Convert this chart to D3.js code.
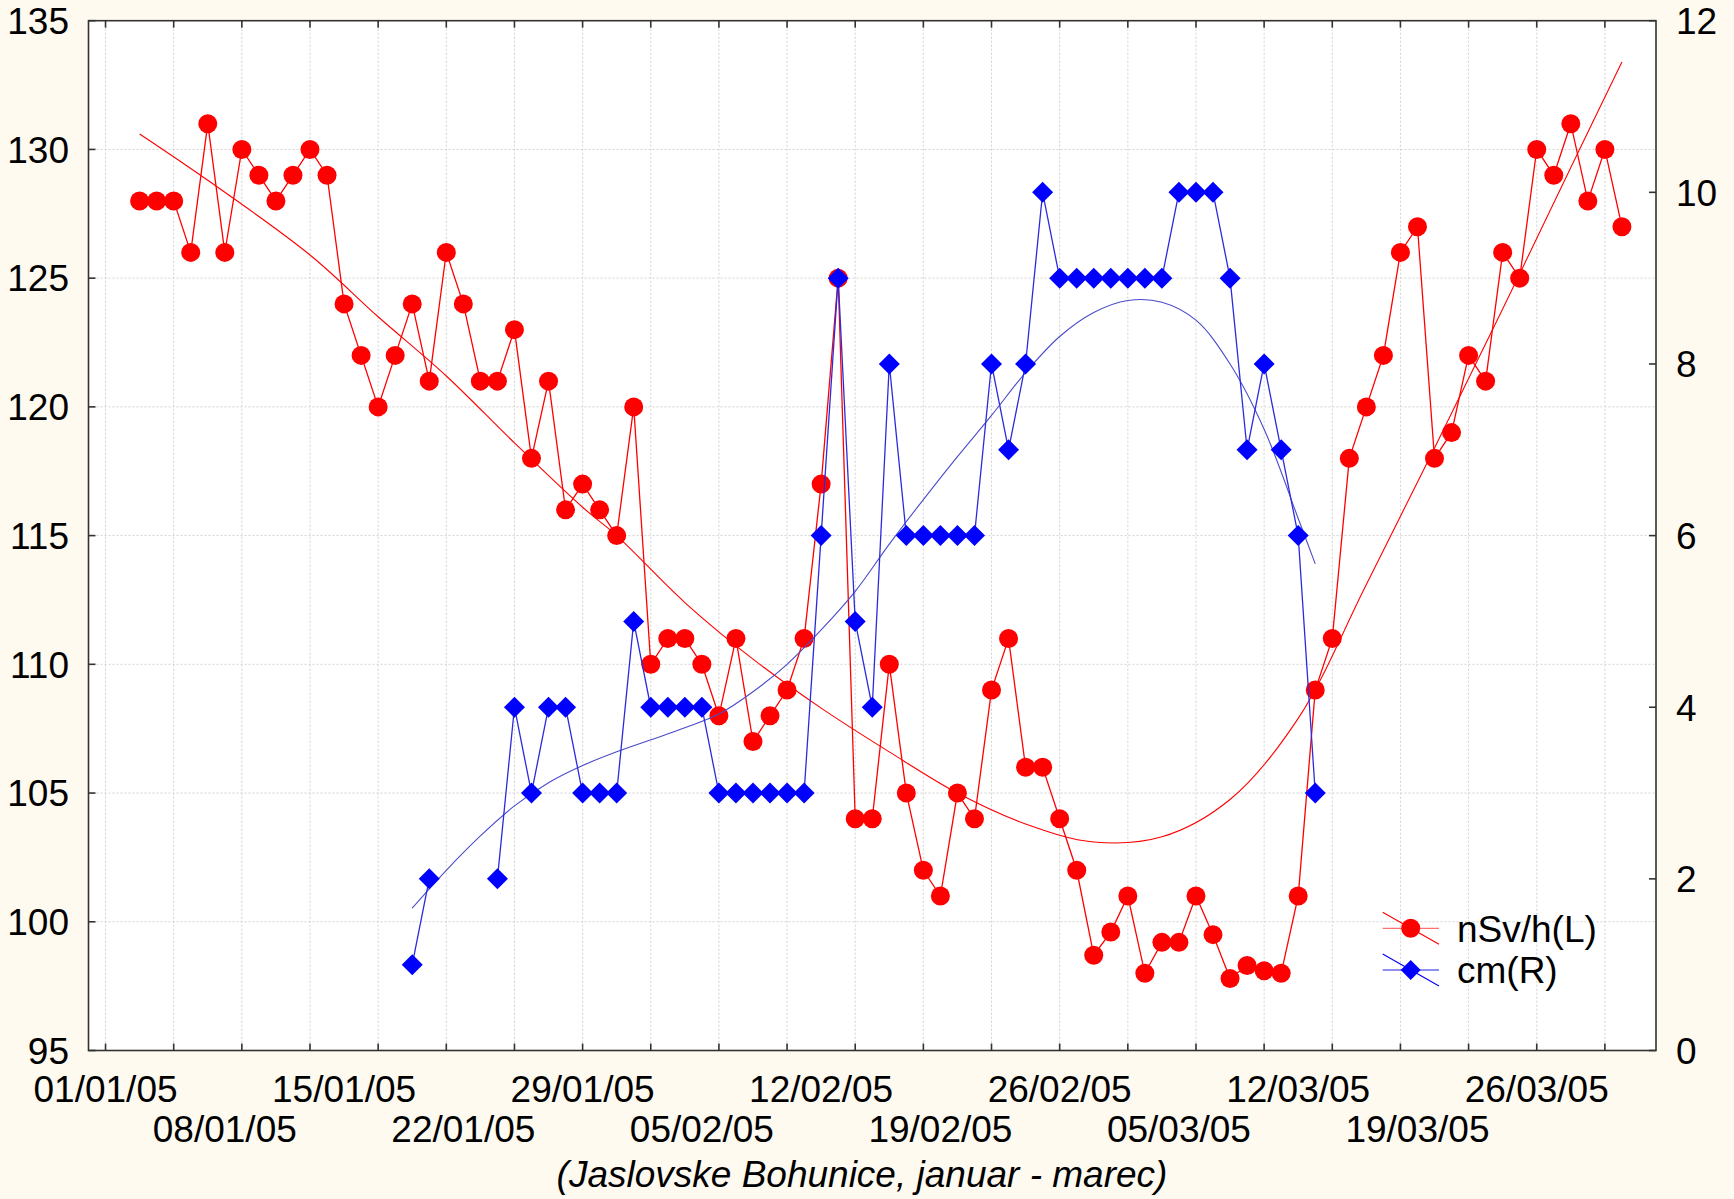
<!DOCTYPE html>
<html>
<head>
<meta charset="utf-8">
<script src="https://cdn.jsdelivr.net/npm/d3@7"></script>
<style>
  html, body { margin: 0; padding: 0; background: #fffaf0; }
  svg { display: block; }
  text { font-family: "Liberation Sans", Arial, sans-serif; fill: #000; }
</style>
</head>
<body>
<svg id="chart" width="1734" height="1199"></svg>
<script>
// ---------------- DATA ----------------
const dates = [
  "2005-01-03","2005-01-04","2005-01-05","2005-01-06","2005-01-07","2005-01-08","2005-01-09","2005-01-10",
  "2005-01-11","2005-01-12","2005-01-13","2005-01-14","2005-01-15","2005-01-16","2005-01-17","2005-01-18",
  "2005-01-19","2005-01-20","2005-01-21","2005-01-22","2005-01-23","2005-01-24","2005-01-25","2005-01-26",
  "2005-01-27","2005-01-28","2005-01-29","2005-01-30","2005-01-31","2005-02-01","2005-02-02","2005-02-03",
  "2005-02-04","2005-02-05","2005-02-06","2005-02-07","2005-02-08","2005-02-09","2005-02-10","2005-02-11",
  "2005-02-12","2005-02-13","2005-02-14","2005-02-15","2005-02-16","2005-02-17","2005-02-18","2005-02-19",
  "2005-02-20","2005-02-21","2005-02-22","2005-02-23","2005-02-24","2005-02-25","2005-02-26","2005-02-27",
  "2005-02-28","2005-03-01","2005-03-02","2005-03-03","2005-03-04","2005-03-05","2005-03-06","2005-03-07",
  "2005-03-08","2005-03-09","2005-03-10","2005-03-11","2005-03-12","2005-03-13","2005-03-14","2005-03-15",
  "2005-03-16","2005-03-17","2005-03-18","2005-03-19","2005-03-20","2005-03-21","2005-03-22","2005-03-23",
  "2005-03-24","2005-03-25","2005-03-26","2005-03-27","2005-03-28","2005-03-29","2005-03-30","2005-03-31"
];

// nSv/h (left axis)
const doseRate = [
  128,128,128,126,131,126,130,129,
  128,129,130,129,124,122,120,122,
  124,121,126,124,121,121,123,118,
  121,116,117,116,115,120,110,111,
  111,110,108,111,107,108,109,111,
  117,125,104,104,110,105,102,101,
  105,104,109,111,106,106,104,102,
  98.7,99.6,101,98,99.2,99.2,101,99.5,
  97.8,98.3,98.1,98,101,109,111,118,
  120,122,126,127,118,119,122,121,
  126,125,130,129,131,128,130,127
];

// cm (right axis), null = no measurement
const snowCm = [
  null,null,null,null,null,null,null,null,
  null,null,null,null,null,null,null,null,
  1,2,null,null,null,2,4,3,
  4,4,3,3,3,5,4,4,
  4,4,3,3,3,3,3,3,
  6,9,5,4,8,6,6,6,
  6,6,8,7,8,10,9,9,
  9,9,9,9,9,10,10,10,
  9,7,8,7,6,3,null,null,
  null,null,null,null,null,null,null,null,
  null,null,null,null,null,null,null,null
];

// fitted curves
const doseFitDates = ["2005-01-03","2005-01-07","2005-01-13","2005-01-17","2005-01-21","2005-01-25","2005-01-29",
  "2005-01-31","2005-02-04","2005-02-08","2005-02-12","2005-02-16","2005-02-20","2005-02-24","2005-02-28",
  "2005-03-04","2005-03-08","2005-03-12","2005-03-16","2005-03-20","2005-03-24","2005-03-28","2005-03-31"];
const doseFitValues = [130.6,128.8,125.9,123.5,121.2,118.6,116.1,
  115.0,112.4,110.2,108.3,106.6,105.0,103.8,103.1,
  103.3,104.75,107.9,113.1,118.4,123.8,129.3,133.4];

const snowFitDates = ["2005-01-19","2005-01-21","2005-01-23","2005-01-25","2005-01-27","2005-01-29","2005-01-31",
  "2005-02-02","2005-02-04","2005-02-06","2005-02-08","2005-02-10","2005-02-12","2005-02-14","2005-02-16",
  "2005-02-18","2005-02-20","2005-02-22","2005-02-24","2005-02-26","2005-02-28","2005-03-02","2005-03-04",
  "2005-03-06","2005-03-08","2005-03-10","2005-03-12","2005-03-13"];
const snowFitValues = [1.66,2.1,2.5,2.85,3.12,3.32,3.48,
  3.62,3.76,3.92,4.18,4.5,4.9,5.35,5.9,
  6.42,6.92,7.4,7.9,8.32,8.6,8.74,8.72,
  8.51,8.0,7.24,6.2,5.67];

const leftTicks = [95,100,105,110,115,120,125,130,135];
const rightTicks = [0,2,4,6,8,10,12];
const xLabelsRow1 = ["01/01/05","15/01/05","29/01/05","12/02/05","26/02/05","12/03/05","26/03/05"];
const xLabelsRow2 = ["08/01/05","22/01/05","05/02/05","19/02/05","05/03/05","19/03/05"];
const xGridDates = ["2005-01-01","2005-01-05","2005-01-09","2005-01-13","2005-01-17","2005-01-21","2005-01-25",
  "2005-01-29","2005-02-02","2005-02-06","2005-02-10","2005-02-14","2005-02-18","2005-02-22","2005-02-26",
  "2005-03-02","2005-03-06","2005-03-10","2005-03-14","2005-03-18","2005-03-22","2005-03-26","2005-03-30"];
const xDomain = ["2004-12-31","2005-04-02"];
const seriesNames = ["nSv/h(L)","cm(R)"];
const caption = "(Jaslovske Bohunice, januar - marec)";

// ---------------- DRAW ----------------
const parseISO = d3.utcParse("%Y-%m-%d");
const parseLbl = d3.utcParse("%d/%m/%y");

const L = 88.5, R = 1656, T = 20.7, B = 1050.5;
const svg = d3.select("#chart");

const x = d3.scaleUtc().domain(xDomain.map(parseISO)).range([L, R]);
const yL = d3.scaleLinear().domain([95,135]).range([B, T]);
const yR = d3.scaleLinear().domain([0,12]).range([B, T]);

svg.append("rect").attr("x",0).attr("y",0).attr("width",1734).attr("height",1199).attr("fill","#fffaf0");
svg.append("rect").attr("x",L).attr("y",T).attr("width",R-L).attr("height",B-T).attr("fill","#ffffff");

// grid
const grid = svg.append("g").attr("stroke","#d2d2d2").attr("stroke-width",1).attr("stroke-dasharray","2,2");
xGridDates.map(parseISO).forEach(d => {
  grid.append("line").attr("x1",x(d)).attr("x2",x(d)).attr("y1",T).attr("y2",B);
});
leftTicks.slice(1,-1).forEach(v => {
  grid.append("line").attr("x1",L).attr("x2",R).attr("y1",yL(v)).attr("y2",yL(v));
});

// axes (box + inward ticks)
const axG = svg.append("g").attr("stroke","#333").attr("stroke-width",1.6).attr("fill","none");
axG.append("rect").attr("x",L).attr("y",T).attr("width",R-L).attr("height",B-T);
const tk = 7;
xGridDates.map(parseISO).forEach(d => {
  axG.append("line").attr("x1",x(d)).attr("x2",x(d)).attr("y1",B).attr("y2",B-tk);
  axG.append("line").attr("x1",x(d)).attr("x2",x(d)).attr("y1",T).attr("y2",T+tk);
});
leftTicks.forEach(v => axG.append("line").attr("x1",L).attr("x2",L+tk).attr("y1",yL(v)).attr("y2",yL(v)));
rightTicks.forEach(v => axG.append("line").attr("x1",R).attr("x2",R-tk).attr("y1",yR(v)).attr("y2",yR(v)));

const FS = 37;
// tick labels
svg.append("g").selectAll("text").data(leftTicks).join("text")
  .attr("x", 69).attr("y", d => yL(d)).attr("dy","0.36em")
  .attr("text-anchor","end").attr("font-size",FS).text(d => d);
svg.append("g").selectAll("text").data(rightTicks).join("text")
  .attr("x", 1676).attr("y", d => yR(d)).attr("dy","0.36em")
  .attr("text-anchor","start").attr("font-size",FS).text(d => d);
svg.append("g").selectAll("text").data(xLabelsRow1).join("text")
  .attr("x", d => x(parseLbl(d))).attr("y", 1102)
  .attr("text-anchor","middle").attr("font-size",FS).text(d => d);
svg.append("g").selectAll("text").data(xLabelsRow2).join("text")
  .attr("x", d => x(parseLbl(d))).attr("y", 1142)
  .attr("text-anchor","middle").attr("font-size",FS).text(d => d);
svg.append("text").attr("x", 862).attr("y", 1187).attr("text-anchor","middle")
  .attr("font-size",FS).attr("font-style","italic").text(caption);

// clip
svg.append("clipPath").attr("id","plotclip").append("rect")
  .attr("x",L).attr("y",T).attr("width",R-L).attr("height",B-T);
const plot = svg.append("g").attr("clip-path","url(#plotclip)");

const dd = dates.map(parseISO);
const redPts = dd.map((d,i) => ({d, v: doseRate[i]}));
const bluePts = dd.map((d,i) => ({d, v: snowCm[i]}));

const redFit = doseFitDates.map((d,i) => ({d: parseISO(d), v: doseFitValues[i]}));
const blueFit = snowFitDates.map((d,i) => ({d: parseISO(d), v: snowFitValues[i]}));

const lineL = d3.line().x(p => x(p.d)).y(p => yL(p.v)).defined(p => p.v != null);
const lineR = d3.line().x(p => x(p.d)).y(p => yR(p.v)).defined(p => p.v != null);
const fitL = d3.line().x(p => x(p.d)).y(p => yL(p.v)).curve(d3.curveCatmullRom.alpha(0.5));
const fitR = d3.line().x(p => x(p.d)).y(p => yR(p.v)).curve(d3.curveCatmullRom.alpha(0.5));

const RED = "#ff0000", BLUE = "#0000ff";

// red series
plot.append("path").attr("d", fitL(redFit)).attr("fill","none").attr("stroke",RED).attr("stroke-width",1.1);
plot.append("path").attr("d", lineL(redPts)).attr("fill","none").attr("stroke",RED).attr("stroke-width",1.3);
plot.append("g").selectAll("circle").data(redPts).join("circle")
  .attr("cx", p => x(p.d)).attr("cy", p => yL(p.v)).attr("r", 9.5).attr("fill", RED);

// blue series
const diamond = s => `M0,${-s}L${s},0L0,${s}L${-s},0Z`;
plot.append("path").attr("d", fitR(blueFit)).attr("fill","none").attr("stroke","#4a4acc").attr("stroke-width",1.1);
plot.append("path").attr("d", lineR(bluePts)).attr("fill","none").attr("stroke","#2b2bdd").attr("stroke-width",1.3);
plot.append("g").selectAll("path").data(bluePts.filter(p => p.v != null)).join("path")
  .attr("transform", p => `translate(${x(p.d)},${yR(p.v)})`).attr("d", diamond(10.5)).attr("fill", BLUE);

// legend
const lg = svg.append("g");
const legendRows = [
  {name: seriesNames[0], cy: 928.3, col: RED, light: "#ff7070", mark: "circle"},
  {name: seriesNames[1], cy: 970, col: BLUE, light: "#6a6aee", mark: "diamond"}
];
legendRows.forEach(r => {
  lg.append("line").attr("x1",1382.7).attr("x2",1439).attr("y1",r.cy).attr("y2",r.cy)
    .attr("stroke",r.light).attr("stroke-width",1.3);
  lg.append("line").attr("x1",1382.7).attr("x2",1439).attr("y1",r.cy-16).attr("y2",r.cy+16)
    .attr("stroke",r.col).attr("stroke-width",1.1);
  if (r.mark === "circle") {
    lg.append("circle").attr("cx",1410.7).attr("cy",r.cy).attr("r",9.5).attr("fill",r.col);
  } else {
    lg.append("path").attr("transform",`translate(1410.7,${r.cy})`).attr("d",diamond(10)).attr("fill",r.col);
  }
  lg.append("text").attr("x",1457).attr("y",r.cy).attr("dy","0.36em").attr("font-size",FS).text(r.name);
});
</script>
